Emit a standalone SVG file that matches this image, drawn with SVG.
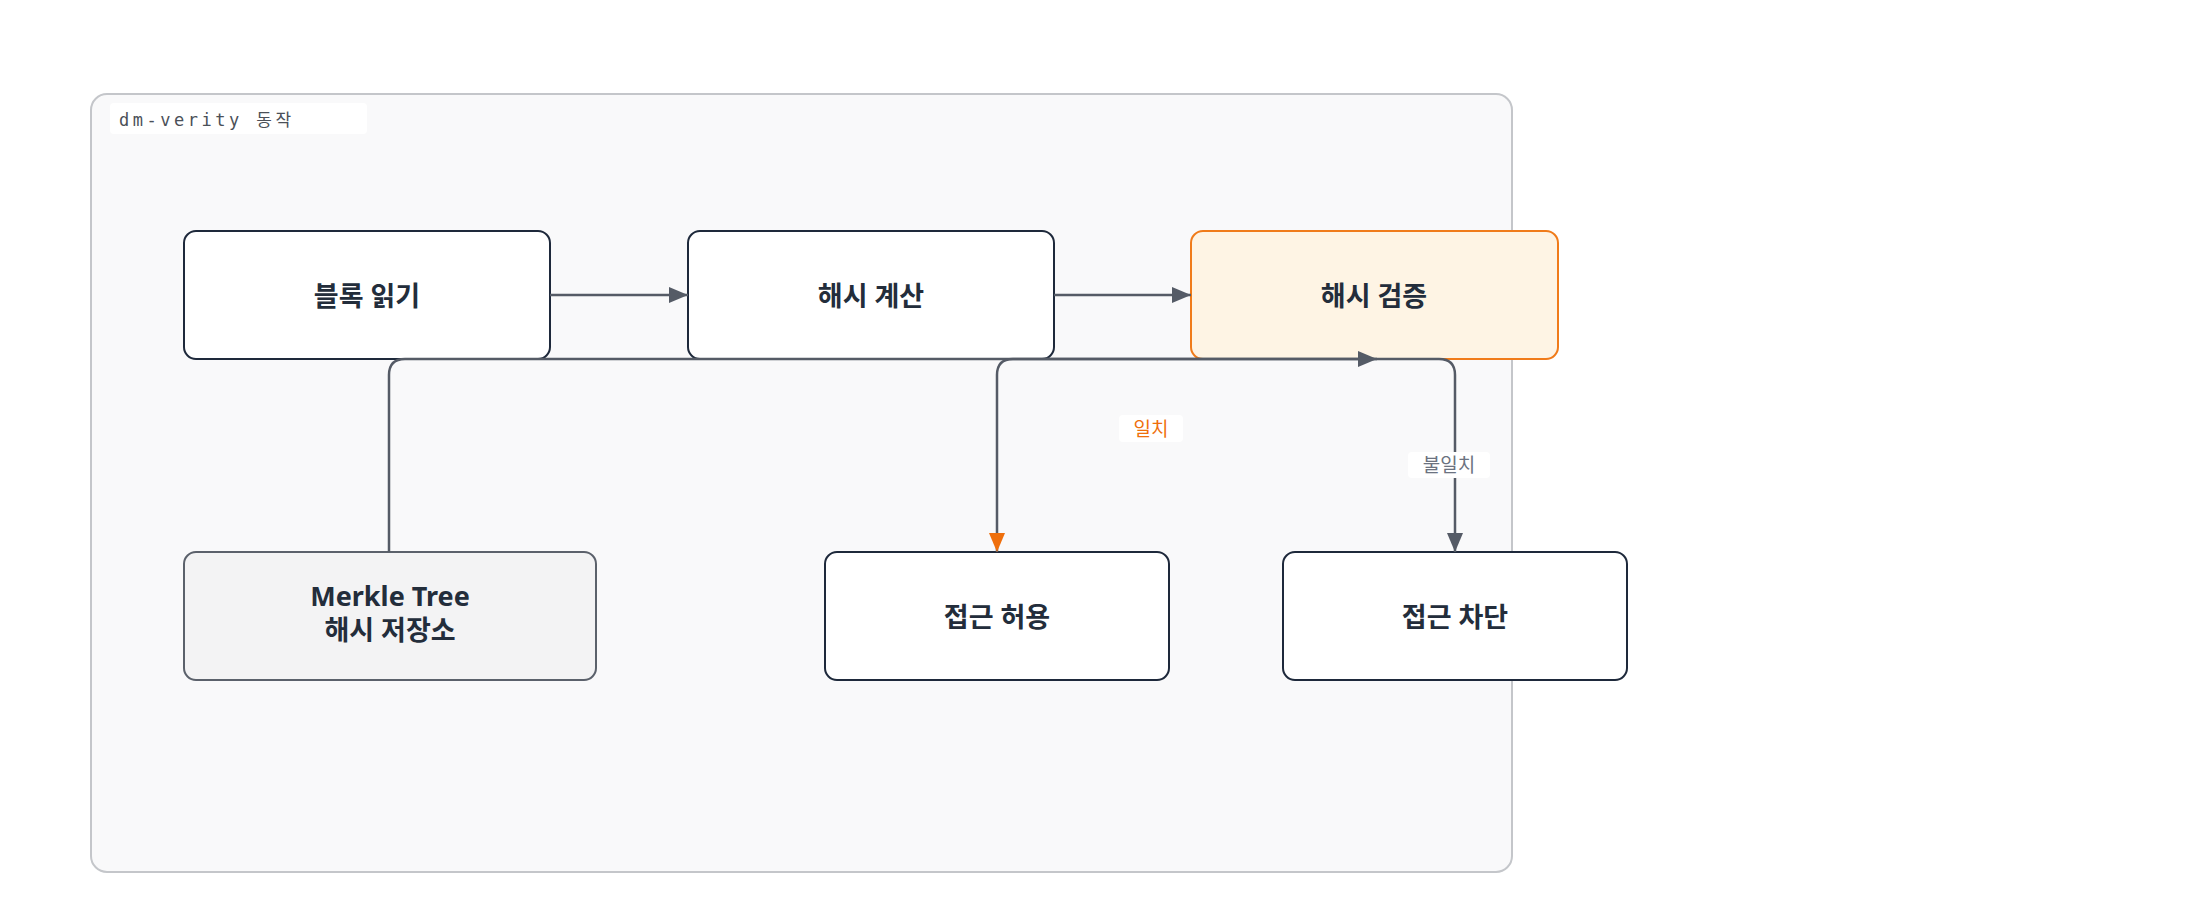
<svg xmlns="http://www.w3.org/2000/svg" width="2200" height="920" viewBox="0 0 2200 920">
  <style>
    .node { stroke-width: 2; }
    .plain { fill: #ffffff; stroke: #1e293b; }
    .ntext { font-family: "Noto Sans", "Noto Sans CJK KR", sans-serif; font-weight: 700; font-size: 27px; fill: #232d3b; text-anchor: middle; }
    .edge { fill: none; stroke: #555b66; stroke-width: 2.5; }
    .lbl { font-family: "Noto Sans", "Noto Sans CJK KR", sans-serif; font-size: 19px; text-anchor: middle; dominant-baseline: central; }
    .lblbg { fill: #ffffff; }
  </style>
  <defs>
    <marker id="arrow" markerUnits="userSpaceOnUse" markerWidth="19" markerHeight="16" viewBox="0 0 19 16" refX="19" refY="8" orient="auto">
      <path d="M0,0 L19,8 L0,16 z" fill="#555b66"/>
    </marker>
    <marker id="arrowOrange" markerUnits="userSpaceOnUse" markerWidth="19" markerHeight="16" viewBox="0 0 19 16" refX="19" refY="8" orient="auto">
      <path d="M0,0 L19,8 L0,16 z" fill="#ef6f0c"/>
    </marker>
  </defs>

  <rect width="2200" height="920" fill="#ffffff"/>

  <g id="container">
    <rect x="91" y="94" width="1421" height="778" rx="16" fill="#f9f9fa" stroke="#c4c6ca" stroke-width="2"/>
    <rect x="110" y="103" width="257" height="31" rx="4" fill="#ffffff"/>
    <text x="119" y="126" font-family="'DejaVu Sans Mono', 'Noto Sans CJK KR', monospace" font-size="17" letter-spacing="3.5" fill="#4b5058">dm-verity 동작</text>
  </g>

  <g id="n1">
    <rect class="node plain" x="184" y="231" width="366" height="128" rx="12"/>
    <text class="ntext" x="367" y="295" dominant-baseline="central">블록 읽기</text>
  </g>
  <g id="n2">
    <rect class="node plain" x="688" y="231" width="366" height="128" rx="12"/>
    <text class="ntext" x="871" y="295" dominant-baseline="central">해시 계산</text>
  </g>
  <g id="n3">
    <rect class="node" x="1191" y="231" width="367" height="128" rx="12" fill="#fef4e4" stroke="#f07b1a"/>
    <text class="ntext" x="1374" y="295" dominant-baseline="central">해시 검증</text>
  </g>
  <g id="n4">
    <rect class="node" x="184" y="552" width="412" height="128" rx="12" fill="#f3f3f4" stroke="#5b616b"/>
    <text class="ntext" x="390" y="606" font-size="26">Merkle Tree</text>
    <text class="ntext" x="390" y="640" font-size="26">해시 저장소</text>
  </g>
  <g id="n5">
    <rect class="node plain" x="825" y="552" width="344" height="128" rx="12"/>
    <text class="ntext" x="997" y="616" dominant-baseline="central">접근 허용</text>
  </g>
  <g id="n6">
    <rect class="node plain" x="1283" y="552" width="344" height="128" rx="12"/>
    <text class="ntext" x="1455" y="616" dominant-baseline="central">접근 차단</text>
  </g>

  <g id="connectors">
    <path class="edge" d="M550,295 H688" marker-end="url(#arrow)"/>
    <path class="edge" d="M1054,295 H1191" marker-end="url(#arrow)"/>
    <path class="edge" d="M389,552 V375 Q389,359 405,359 H1377" marker-end="url(#arrow)"/>
    <path class="edge" d="M1374,359 H1013 Q997,359 997,375 V552" marker-end="url(#arrowOrange)"/>
    <path class="edge" d="M1374,359 H1439 Q1455,359 1455,375 V552" marker-end="url(#arrow)"/>
    <g id="label-match">
      <rect class="lblbg" x="1119" y="415" width="64" height="27" rx="4"/>
      <text class="lbl" x="1151" y="429" fill="#ef6f0c">일치</text>
    </g>
    <g id="label-mismatch">
      <rect class="lblbg" x="1408" y="452" width="82" height="26" rx="4"/>
      <text class="lbl" x="1449" y="465" fill="#6b7280">불일치</text>
    </g>
  </g>
</svg>
